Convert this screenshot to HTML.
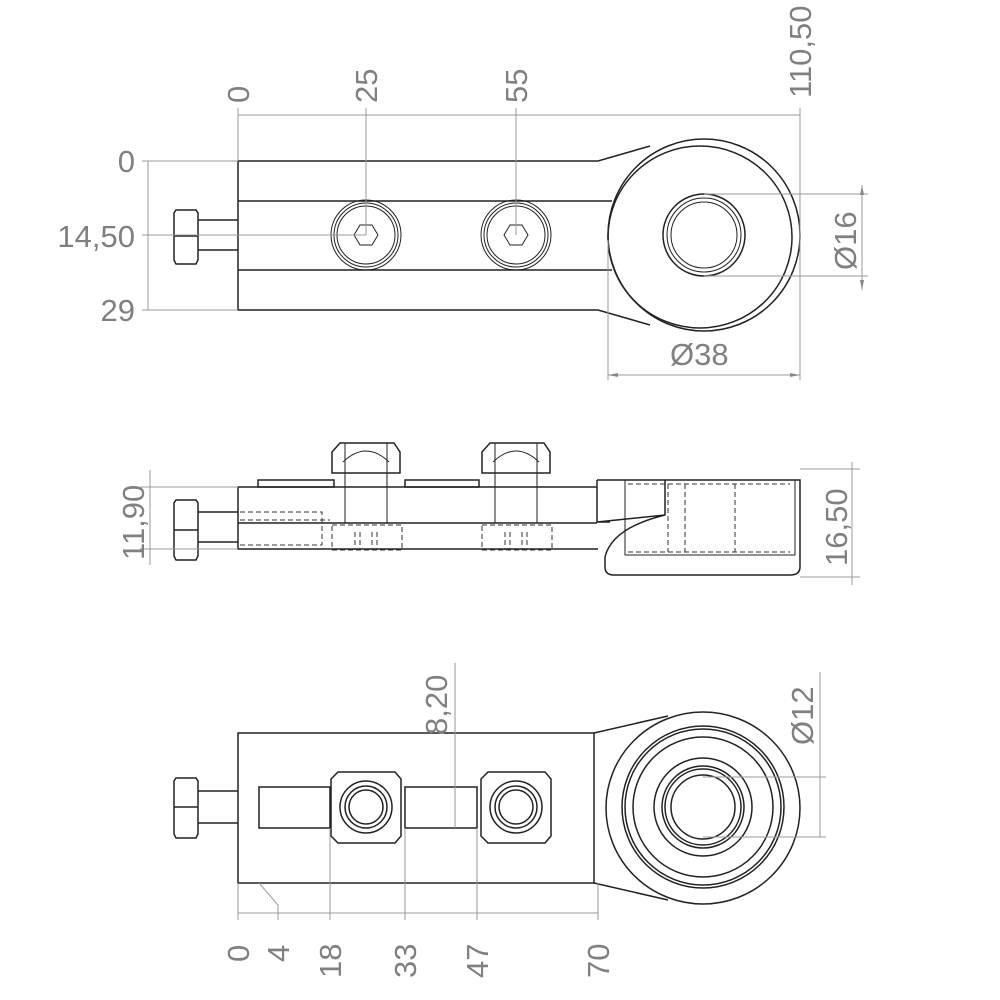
<!DOCTYPE html>
<html><head><meta charset="utf-8"><style>
html,body{margin:0;padding:0;background:#fff;}
svg{display:block}
.p{fill:none;stroke:#222;stroke-width:1.5}
.t{fill:none;stroke:#222;stroke-width:1}
.d{fill:none;stroke:#333;stroke-width:1;stroke-dasharray:5,3}
.g{fill:none;stroke:#999;stroke-width:1}
text{font-family:"Liberation Sans",sans-serif;font-size:31px;fill:#808080}
</style></head><body>
<svg width="1000" height="1000" viewBox="0 0 1000 1000" xmlns="http://www.w3.org/2000/svg">
<defs><marker id="a" markerWidth="10" markerHeight="6" refX="10" refY="3" orient="auto-start-reverse" markerUnits="userSpaceOnUse"><path d="M0,1 L10,3 L0,5z" fill="#888"/></marker></defs>

<!-- ===== TOP VIEW ===== -->
<path class="p" d="M238,161 H598 L650,146 M238,161 V310 H598 L650,325"/>
<line class="p" x1="238" y1="201" x2="612" y2="201"/>
<line class="p" x1="238" y1="270" x2="612" y2="270"/>
<ellipse class="p" cx="704" cy="235" rx="96" ry="96"/>
<ellipse class="p" cx="700" cy="237" rx="92" ry="91"/>
<circle class="p" cx="704" cy="235" r="41" stroke-width="2.5"/>
<circle class="t" cx="704" cy="235" r="37"/>
<circle class="t" cx="704" cy="235" r="33"/>
<g id="s1"><circle class="t" cx="366" cy="235" r="35"/><circle class="t" cx="366" cy="235" r="32"/><circle class="t" cx="366" cy="235" r="29"/>
<polygon class="t" points="378,235 372,245 360,245 354,235 360,225 372,225"/></g>
<use href="#s1" x="150"/>
<path class="p" d="M176,210 H196 L198,213 V260 L196,264 H176 L174,260 V213 Z M174,236 H198"/>
<path class="p" d="M198,220 H238 M198,250 H238"/>
<!-- top dims -->
<line class="g" x1="238" y1="115" x2="800" y2="115"/>
<line class="g" x1="238" y1="108" x2="238" y2="161"/>
<line class="g" x1="366" y1="108" x2="366" y2="235"/>
<line class="g" x1="516" y1="108" x2="516" y2="235"/>
<line class="g" x1="800" y1="108" x2="800" y2="240"/>
<text transform="translate(249,103) rotate(-90)">0</text>
<text transform="translate(377,103) rotate(-90)">25</text>
<text transform="translate(527,103) rotate(-90)">55</text>
<text transform="translate(811,98) rotate(-90)">110,50</text>
<line class="g" x1="142" y1="161" x2="238" y2="161"/>
<line class="g" x1="142" y1="235" x2="366" y2="235"/>
<line class="g" x1="142" y1="310" x2="238" y2="310"/>
<line class="g" x1="148" y1="161" x2="148" y2="310"/>
<text x="135" y="172" text-anchor="end">0</text>
<text x="135" y="247" text-anchor="end">14,50</text>
<text x="135" y="321" text-anchor="end">29</text>
<line class="g" x1="704" y1="194" x2="868" y2="194"/>
<line class="g" x1="704" y1="276" x2="868" y2="276"/>
<line class="g" x1="862" y1="185" x2="862" y2="290" marker-start="url(#a)" marker-end="url(#a)"/>
<text transform="translate(856,270) rotate(-90)">Ø16</text>
<line class="g" x1="608" y1="240" x2="608" y2="380"/>
<line class="g" x1="800" y1="240" x2="800" y2="380"/>
<line class="g" x1="608" y1="375" x2="800" y2="375" marker-start="url(#a)" marker-end="url(#a)"/>
<text x="670" y="365">Ø38</text>

<!-- ===== MIDDLE VIEW ===== -->
<path class="p" d="M238,487 H597 M238,487 V549 H598 M238,523 H597"/>
<rect class="p" x="258" y="480" width="76" height="7"/>
<rect class="p" x="405" y="480" width="74" height="7"/>
<g id="h1">
<path class="p" d="M340,443 H394 L400,452 V473 H332 V452 Z"/>
<path class="t" d="M343,462 Q366,440 389,462 M345,443 V473 M387,443 V473"/>
<path class="t" d="M345,473 V523 M387,473 V523"/>
<rect class="d" x="332" y="525" width="70" height="25"/>
<path class="d" d="M355,532 V550 M377,532 V550 M360,532 V550 M372,532 V550"/>
</g>
<use href="#h1" x="150"/>
<path class="d" d="M240,512 H322 V545 M240,545 H322 M240,520 H330"/>
<path class="p" d="M176,500 H196 L198,503 V556 L196,560 H176 L174,556 V503 Z M174,530 H198"/>
<path class="p" d="M198,512 H238 M198,542 H238"/>
<path class="p" d="M597,480 H800 V567 Q800,575 790,575 H614 Q605,575 605,567 V557 M597,480 V522 L665,515 V480 M605,557 Q612,528 665,515 M597,522 H610"/>
<path class="t" d="M625,480 V555 H795 V480"/>
<path class="d" d="M628,484 H790 M628,552 H790 M668,484 V552 M735,484 V552 M685,484 V552"/>
<line class="g" x1="140" y1="487" x2="238" y2="487"/>
<line class="g" x1="140" y1="549" x2="238" y2="549"/>
<line class="g" x1="150" y1="470" x2="150" y2="565"/>
<text transform="translate(144,560) rotate(-90)">11,90</text>
<line class="g" x1="800" y1="469" x2="860" y2="469"/>
<line class="g" x1="800" y1="577" x2="860" y2="577"/>
<line class="g" x1="852" y1="462" x2="852" y2="585"/>
<text transform="translate(847,566) rotate(-90)">16,50</text>

<!-- ===== BOTTOM VIEW ===== -->
<rect class="p" x="238" y="733" width="356" height="150"/>
<path class="p" d="M594,733 L668,716 M594,883 L668,900"/>
<ellipse class="p" cx="703" cy="808" rx="97" ry="96"/>
<circle class="p" cx="703" cy="807" r="81"/>
<circle class="p" cx="703" cy="807" r="78"/>
<circle class="p" cx="703" cy="807" r="70"/>
<circle class="p" cx="703" cy="807" r="49"/>
<circle class="p" cx="703" cy="807" r="41"/>
<circle class="p" cx="703" cy="807" r="38"/>
<circle class="p" cx="703" cy="807" r="32"/>
<rect class="p" x="259" y="787" width="71" height="41"/>
<rect class="p" x="405" y="787" width="72" height="41"/>
<g id="n1">
<polygon class="p" points="338,772 395,772 401,779 401,836 395,843 338,843 331,836 331,779"/>
<circle class="p" cx="366" cy="807" r="26"/><circle class="p" cx="366" cy="807" r="21"/><circle class="p" cx="366" cy="807" r="17"/>
</g>
<use href="#n1" x="150"/>
<path class="p" d="M176,778 H196 L198,781 V834 L196,838 H176 L174,834 V781 Z M174,807 H198"/>
<path class="p" d="M198,791 H238 M198,823 H238"/>
<!-- bottom dims -->
<line class="g" x1="238" y1="883" x2="238" y2="920"/>
<path class="g" d="M259,883 L278,905 V920"/>
<line class="g" x1="330" y1="828" x2="330" y2="920"/>
<line class="g" x1="405" y1="828" x2="405" y2="920"/>
<line class="g" x1="477" y1="828" x2="477" y2="920"/>
<line class="g" x1="598" y1="883" x2="598" y2="920"/>
<line class="g" x1="238" y1="913" x2="598" y2="913"/>
<text transform="translate(249,962) rotate(-90)">0</text>
<text transform="translate(289,962) rotate(-90)">4</text>
<text transform="translate(341,978) rotate(-90)">18</text>
<text transform="translate(416,978) rotate(-90)">33</text>
<text transform="translate(488,978) rotate(-90)">47</text>
<text transform="translate(609,978) rotate(-90)">70</text>
<line class="g" x1="455" y1="663" x2="455" y2="828"/>
<text transform="translate(447,735) rotate(-90)">8,20</text>
<line class="g" x1="703" y1="777" x2="826" y2="777"/>
<line class="g" x1="703" y1="837" x2="826" y2="837"/>
<line class="g" x1="820" y1="672" x2="820" y2="837"/>
<text transform="translate(813,745) rotate(-90)">Ø12</text>
</svg>
</body></html>
